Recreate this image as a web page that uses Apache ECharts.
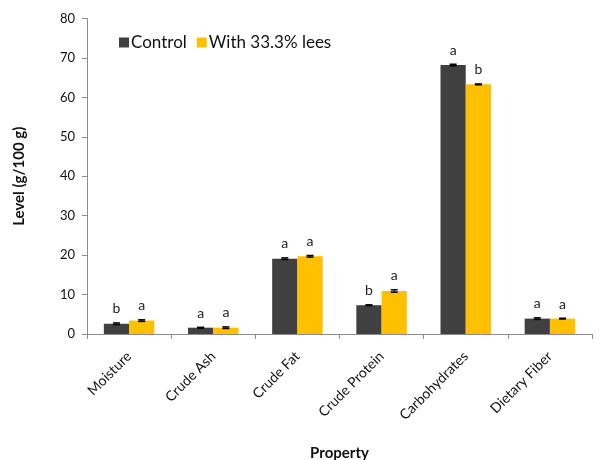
<!DOCTYPE html>
<html><head><meta charset="utf-8">
<script src="https://cdn.jsdelivr.net/npm/echarts@6/dist/echarts.min.js"></script>
<style>html,body{margin:0;padding:0;background:#fff}#c{width:607px;height:460px}</style>
</head><body><div id="c"></div>
<script>
const categories = ['Moisture','Crude Ash','Crude Fat','Crude Protein','Carbohydrates','Dietary Fiber'];
const controlValues = [2.6, 1.6, 19.1, 7.3, 68.2, 3.9];
const leesValues = [3.4, 1.6, 19.7, 10.9, 63.3, 3.9];
const controlErr = [0.2, 0.1, 0.2, 0.1, 0.2, 0.2];
const leesErr = [0.2, 0.2, 0.2, 0.3, 0.1, 0.1];
const controlLetters = ['b','a','a','b','a','a'];
const leesLetters = ['a','a','a','a','b','a'];
const yTicks = [0,10,20,30,40,50,60,70,80];

const FONT = 'Lato, "Open Sans", sans-serif';
const chart = echarts.init(document.getElementById('c'), null, {renderer:'canvas'});

function errSeries(name, values, errs, letters, offsetSign) {
  return {
    type: 'custom',
    name: name + ' err',
    z: 10,
    silent: true,
    renderItem: function (params, api) {
      const i = api.value(0);
      const v = api.value(1);
      const e = api.value(2);
      const base = api.coord([i, v]);
      const bw = api.size([1, 0])[0];
      const barW = bw * 0.3;
      const x = base[0] + offsetSign * barW / 2;
      const top = api.coord([i, v + e])[1];
      const bot = api.coord([i, v - e])[1];
      const cap = 3.5;
      return {
        type: 'group',
        children: [
          {type:'line', shape:{x1:x, y1:top, x2:x, y2:bot}, style:{stroke:'#000', lineWidth:1}},
          {type:'line', shape:{x1:x-cap, y1:top, x2:x+cap, y2:top}, style:{stroke:'#000', lineWidth:1.5}},
          {type:'line', shape:{x1:x-cap, y1:bot, x2:x+cap, y2:bot}, style:{stroke:'#000', lineWidth:1.5}},
          {type:'text', style:{text: letters[i], x:x, y:top-7, align:'center', verticalAlign:'bottom', font:'14px ' + FONT, fill:'#222'}}
        ]
      };
    },
    data: values.map((v, i) => [i, v, errs[i]])
  };
}

chart.setOption({
  animation: false,
  backgroundColor: '#fff',
  grid: {left: 87, right: 15, top: 18.5, bottom: 126, containLabel: false, outerBoundsMode: 'none'},
  legend: {
    data: ['Control', 'With 33.3% lees'],
    left: 114, top: 29,
    icon: 'rect', itemWidth: 10, itemHeight: 10, itemGap: 10,
    textStyle: {fontSize: 17, fontFamily: FONT, color: '#111', padding:[0,0,0,-3]}
  },
  xAxis: {
    type: 'category',
    data: categories,
    name: 'Property',
    nameLocation: 'middle',
    nameGap: 112,
    nameTextStyle: {fontSize: 15, fontWeight: 'bold', fontFamily: FONT, color: '#111'},
    axisLine: {lineStyle: {color: '#8c8c8c'}},
    axisTick: {show: true, length: 5, lineStyle: {color: '#8c8c8c'}},
    axisLabel: {rotate: 45, fontSize: 14, fontFamily: FONT, color: '#111', margin: 20, interval: 0}
  },
  yAxis: {
    type: 'value',
    min: 0, max: 80, interval: 10,
    name: 'Level (g/100 g)',
    nameLocation: 'middle',
    nameGap: 60,
    nameTextStyle: {fontSize: 15, fontWeight: 'bold', fontFamily: FONT, color: '#111'},
    splitLine: {show: false},
    axisLine: {show: true, lineStyle: {color: '#8c8c8c'}},
    axisTick: {show: true, length: 5, lineStyle: {color: '#8c8c8c'}},
    axisLabel: {fontSize: 13, fontFamily: FONT, color: '#111', margin: 12,
      formatter: v => yTicks.includes(v) ? String(v) : ''}
  },
  series: [
    {name: 'Control', type: 'bar', data: controlValues, barGap: '0%', barCategoryGap: '40%',
     itemStyle: {color: '#404040'}},
    {name: 'With 33.3% lees', type: 'bar', data: leesValues,
     itemStyle: {color: '#FFC000'}},
    errSeries('Control', controlValues, controlErr, controlLetters, -1),
    errSeries('With 33.3% lees', leesValues, leesErr, leesLetters, 1)
  ]
});
</script></body></html>
